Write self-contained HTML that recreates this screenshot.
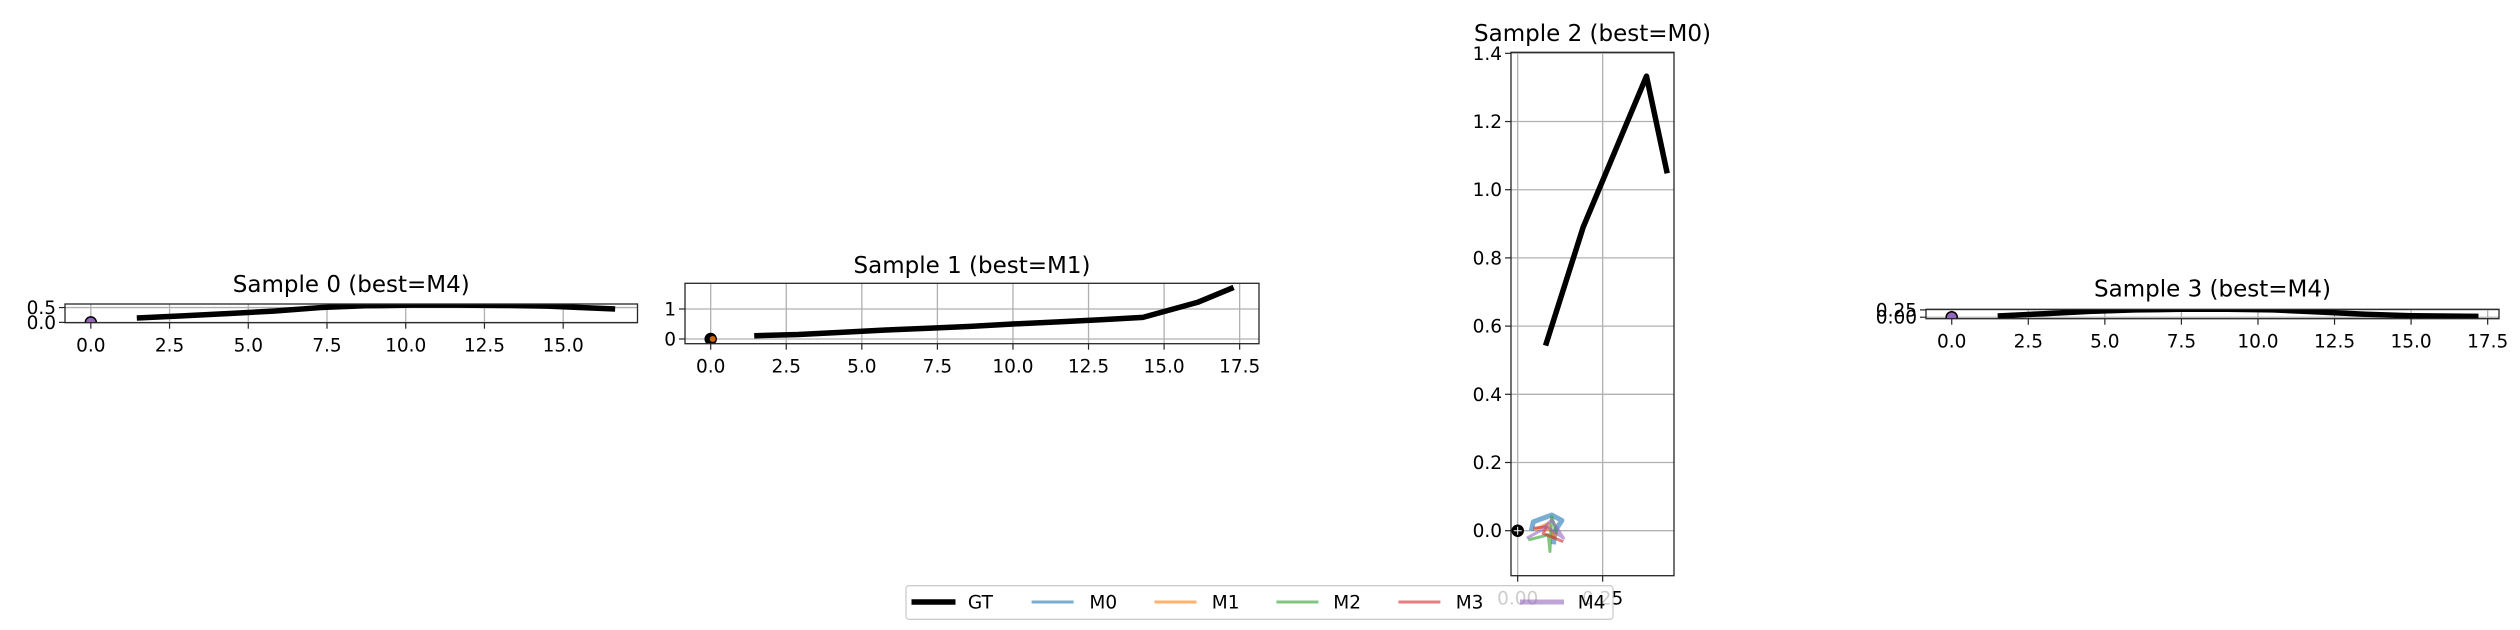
<!DOCTYPE html>
<html><head><meta charset="utf-8">
<style>
html,body{margin:0;padding:0;background:#fff;}
svg{display:block;}
text{font-family:"DejaVu Sans","Liberation Sans",sans-serif;fill:#000;}
</style></head>
<body>
<svg id="fig" width="2520" height="630" viewBox="0 0 2520 630" xmlns="http://www.w3.org/2000/svg"></svg>
<script>
// ---- data ----
const titles = ["Sample 0 (best=M4)","Sample 1 (best=M1)","Sample 2 (best=M0)","Sample 3 (best=M4)"];
const gt0x = [1.46,2.9,4.4,5.8,7.3,8.7,10.2,11.6,13.1,14.5,16.65];
const gt0y = [0.15,0.22,0.30,0.38,0.50,0.56,0.58,0.58,0.57,0.55,0.45];
const gt1x = [1.44,2.9,4.3,5.8,7.2,8.6,10.0,11.5,12.9,14.3,16.1,17.3];
const gt1y = [0.11,0.15,0.22,0.30,0.36,0.42,0.50,0.57,0.64,0.72,1.22,1.72];
const gt2x = [0.082,0.193,0.379,0.44];
const gt2y = [0.543,0.891,1.333,1.048];
const gt3x = [1.5,3.0,4.5,6.0,7.5,9.0,10.5,12.0,13.5,15.0,17.2];
const gt3y = [0.04,0.12,0.20,0.25,0.27,0.27,0.25,0.18,0.10,0.05,0.03];
const m0x = [0.04,0.046,0.10,0.13,0.11,0.105];
const m0y = [0.0,0.026,0.046,0.03,0.0,-0.04];
const m1x = [0.05,0.09,0.105,0.115,0.08];
const m1y = [0.002,0.022,-0.02,-0.01,0.01];
const m2x = [0.031,0.09,0.095,0.10,0.115];
const m2y = [-0.027,-0.012,-0.061,0.041,-0.008];
const m3x = [0.046,0.085,0.075,0.134];
const m3y = [0.007,0.012,-0.008,-0.032];
const m4x = [0.027,0.07,0.10,0.135,0.085];
const m4y = [-0.022,0.002,0.032,-0.022,0.012];
const xt0 = [0,2.5,5,7.5,10,12.5,15];
const xt1 = [0,2.5,5,7.5,10,12.5,15,17.5];
const xt2 = [0,0.25];
const xt3 = [0,2.5,5,7.5,10,12.5,15,17.5];
const yt0 = [0,0.5]; const yl0 = ["0.0","0.5"];
const yt1 = [0,1]; const yl1 = ["0","1"];
const yt2 = [0,0.2,0.4,0.6,0.8,1.0,1.2,1.4]; const yl2 = ["0.0","0.2","0.4","0.6","0.8","1.0","1.2","1.4"];
const yt3 = [0,0.25]; const yl3 = ["0.00","0.25"];
const xl0 = ["0.0","2.5","5.0","7.5","10.0","12.5","15.0"];
const xl1 = ["0.0","2.5","5.0","7.5","10.0","12.5","15.0","17.5"];
const xl2 = ["0.00","0.25"];
const xl3 = xl1;
const legendLabels = ["GT","M0","M1","M2","M3","M4"];
const colors = ["#000","#1f77b4","#ff7f0e","#2ca02c","#d62728","#9467bd"];

// ---- layout (not data) ----
const NS="http://www.w3.org/2000/svg";
const svg=document.getElementById('fig');
function mk(tag,attrs,parent){const e=document.createElementNS(NS,tag);for(const k in attrs)e.setAttribute(k,attrs[k]);(parent||svg).appendChild(e);return e;}
const panels=[
 {box:[65,304,637.5,322.7],xd:[-0.82,17.36],yd:[-0.01,0.62],xt:xt0,xl:xl0,yt:yt0,yl:yl0,gx:gt0x,gy:gt0y,best:5,tb:292},
 {box:[685,283.3,1259,343.7],xd:[-0.85,18.14],yd:[-0.157,1.857],xt:xt1,xl:xl1,yt:yt1,yl:yl1,gx:gt1x,gy:gt1y,best:2,tb:273},
 {box:[1511,52.3,1674,575.7],xd:[-0.0197,0.46],yd:[-0.132,1.403],xt:xt2,xl:xl2,yt:yt2,yl:yl2,gx:gt2x,gy:gt2y,best:1,tb:41},
 {box:[1926,309.3,2499,318.7],xd:[-0.84,17.87],yd:[-0.05,0.27],xt:xt3,xl:xl3,yt:yt3,yl:yl3,gx:gt3x,gy:gt3y,best:5,tb:296.5}
];
const mxs=[m0x,m1x,m2x,m3x,m4x], mys=[m0y,m1y,m2y,m3y,m4y];
panels.forEach((p,i)=>{
  const [L,T,R,B]=p.box;
  const sx=v=>L+(v-p.xd[0])/(p.xd[1]-p.xd[0])*(R-L);
  const sy=v=>B-(v-p.yd[0])/(p.yd[1]-p.yd[0])*(B-T);
  const g=mk('g',{});
  
  
  const cid='clip'+i;
  const cp=mk('clipPath',{id:cid},g); mk('rect',{x:L,y:T,width:R-L,height:B-T},cp);
  p.xt.forEach((v,j)=>{const x=sx(v);
    const gl=mk('line',{x1:x,x2:x,y1:T,y2:B,stroke:'#b0b0b0','stroke-width':1.3},g);
    
    
    mk('line',{x1:x,x2:x,y1:B,y2:B+6,stroke:'#262626','stroke-width':1.2},g);
    const t=mk('text',{x:x,y:B+29,'text-anchor':'middle','font-size':18.5,fill:'#000'},g);
    t.textContent=p.xl[j];
    
    
  });
  p.yt.forEach((v,j)=>{const y=sy(v);
    const gl=mk('line',{x1:L,x2:R,y1:y,y2:y,stroke:'#b0b0b0','stroke-width':1.3},g);
    
    
    mk('line',{x1:L-6,x2:L,y1:y,y2:y,stroke:'#262626','stroke-width':1.2},g);
    const t=mk('text',{x:L-9,y:y+6.5,'text-anchor':'end','font-size':18.5},g);
    t.textContent=p.yl[j];
    
    
  });
  const pg=mk('g',{'clip-path':'url(#'+cid+')'},g);
  if(i===2){
    mxs.forEach((xs,k)=>{
      const pts=xs.map((v,j)=>sx(v)+','+sy(mys[k][j])).join(' ');
      const pl=mk('polyline',{points:pts,fill:'none',stroke:colors[k+1],'stroke-width':(k+1===p.best?5:3),'stroke-opacity':0.6,'stroke-linejoin':'round'},pg);
      
      
    });
  }
  const gpts=p.gx.map((v,j)=>sx(v)+','+sy(p.gy[j])).join(' ');
  const gl=mk('polyline',{points:gpts,fill:'none',stroke:'#000','stroke-width':5.5,'stroke-linejoin':'round'},pg);
  
  
  const o=mk('circle',{cx:sx(0),cy:sy(0),r:5.5,fill:((i===2||i===1)?'#000':colors[p.best]),stroke:'#000','stroke-width':1.5},pg);
  
  
  if(i===1){mk('circle',{cx:sx(0)+2,cy:sy(0),r:3,fill:colors[p.best],'fill-opacity':0.8},pg);}
  if(i===2){mk('line',{x1:sx(0)-4,x2:sx(0)+4,y1:sy(0),y2:sy(0),stroke:'#fff','stroke-width':1},pg);mk('line',{x1:sx(0),x2:sx(0),y1:sy(0)-4,y2:sy(0)+4,stroke:'#fff','stroke-width':1},pg);}
  const fr=mk('rect',{x:L,y:T,width:R-L,height:B-T,fill:'none',stroke:'#262626','stroke-width':1.3},g);
  
  
  const tt=mk('text',{x:(L+R)/2,y:p.tb,'text-anchor':'middle','font-size':23},g);
  tt.textContent=titles[i];
  
  
});
const lg=mk('g',{});


mk('rect',{x:906,y:585.7,width:707,height:33.6,rx:3,fill:'#fff','fill-opacity':0.8,stroke:'#cccccc','stroke-width':1.3},lg);
const hx=[911.5,1031.6,1154.5,1276.4,1398.4,1520];
const tx=[967.9,1089.4,1211.8,1333.3,1455.7,1577.7];
legendLabels.forEach((lab,k)=>{
  const w=(k===0||k===5)?44:42;
  const ln=mk('line',{x1:hx[k],x2:hx[k]+w,y1:602,y2:602,stroke:colors[k],'stroke-width':(k===0?5.5:(k===5?5:3)),'stroke-opacity':(k===0?1:0.6)},lg);
  
  
  const t=mk('text',{x:tx[k],y:608.5,'font-size':18.5},lg);
  t.textContent=lab;
  
  
});
</script>
</body></html>
